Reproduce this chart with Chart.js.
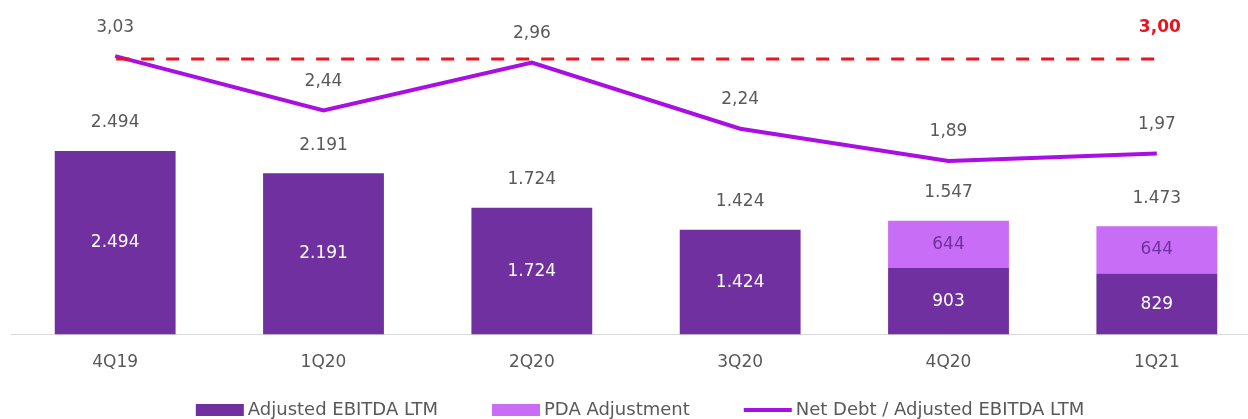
<!DOCTYPE html>
<html>
<head>
<meta charset="utf-8">
<script src="https://cdn.jsdelivr.net/npm/chart.js@4.4.0/dist/chart.umd.min.js"></script>
<style>
  html, body { margin: 0; padding: 0; background: #fff; overflow: hidden; }
  #wrap { width: 1262px; height: 419px; }
</style>
</head>
<body>
<div id="wrap"><canvas id="grafico" width="1262" height="419"></canvas></div>
<script>
// dados do gráfico
const trimestres = ['4Q19', '1Q20', '2Q20', '3Q20', '4Q20', '1Q21'];
const ebitdaAjustado = [2494, 2191, 1724, 1424, 903, 829];
const ajustePDA = [null, null, null, null, 644, 644];
const dividaEbitda = [3.03, 2.44, 2.96, 2.24, 1.89, 1.97];
const limiteCovenant = [3.00, 3.00, 3.00, 3.00, 3.00, 3.00];
const nomesLegenda = ['Adjusted EBITDA LTM', 'PDA Adjustment', 'Net Debt / Adjusted EBITDA LTM'];

const ROXO = '#7030a0';
const LILAS = '#c86df6';
const MAGENTA = '#a90ee3';
const VERMELHO = '#e8141e';
const CINZA = '#595959';
const FONTE = "'DejaVu Sans', sans-serif";

function formatarMilhar(v) {
  return String(v).replace(/\B(?=(\d{3})+(?!\d))/g, '.');
}
function formatarDecimal(v) {
  return v.toFixed(2).replace('.', ',');
}

// plugin simples para escrever os rótulos e a legenda
const rotulos = {
  id: 'rotulos',
  afterDatasetsDraw(chart) {
    const ctx = chart.ctx;
    const mBase = chart.getDatasetMeta(0);
    const mPda = chart.getDatasetMeta(1);
    const mLinha = chart.getDatasetMeta(2);
    const mLimite = chart.getDatasetMeta(3);
    ctx.save();
    ctx.textAlign = 'center';
    ctx.textBaseline = 'middle';
    ctx.font = '17px ' + FONTE;

    trimestres.forEach((t, i) => {
      const b = mBase.data[i];
      // valor dentro da barra base
      ctx.fillStyle = '#ffffff';
      ctx.fillText(formatarMilhar(ebitdaAjustado[i]), b.x, (b.y + b.base) / 2);
      let topo = b.y;
      let total = ebitdaAjustado[i];
      if (ajustePDA[i] != null) {
        const p = mPda.data[i];
        ctx.fillStyle = ROXO;
        ctx.fillText(formatarMilhar(ajustePDA[i]), p.x, (p.y + p.base) / 2);
        topo = p.y;
        total += ajustePDA[i];
      }
      ctx.fillStyle = CINZA;
      ctx.fillText(formatarMilhar(total), b.x, topo - 28);

      const pt = mLinha.data[i];
      ctx.fillText(formatarDecimal(dividaEbitda[i]), pt.x, pt.y - 29);
    });

    const ult = mLimite.data[mLimite.data.length - 1];
    ctx.font = 'bold 17px ' + FONTE;
    ctx.fillStyle = VERMELHO;
    ctx.fillText(formatarDecimal(limiteCovenant[limiteCovenant.length - 1]), ult.x + 3, ult.y - 31);
    ctx.restore();
  },
  afterDraw(chart) {
    // legenda desenhada à mão (espaçamento igual ao original)
    const ctx = chart.ctx;
    ctx.save();
    ctx.font = '18px ' + FONTE;
    ctx.textBaseline = 'middle';
    ctx.textAlign = 'left';
    const caixa = 48, folga = 4, entre = 54, yLeg = 410;
    const larguras = nomesLegenda.map((n) => ctx.measureText(n).width);
    const total = larguras.reduce((a, w) => a + caixa + folga + w, 0) + entre * (nomesLegenda.length - 1);
    let x = 640 - total / 2;
    const cores = [ROXO, LILAS, MAGENTA];
    nomesLegenda.forEach((nome, i) => {
      if (i < 2) {
        ctx.fillStyle = cores[i];
        ctx.fillRect(x, yLeg - 6, caixa, 12);
      } else {
        ctx.strokeStyle = cores[i];
        ctx.lineWidth = 4;
        ctx.beginPath();
        ctx.moveTo(x, yLeg);
        ctx.lineTo(x + caixa, yLeg);
        ctx.stroke();
      }
      ctx.fillStyle = CINZA;
      ctx.fillText(nome, x + caixa + folga, yLeg);
      x += caixa + folga + larguras[i] + entre;
    });
    ctx.restore();
  }
};

const config = {
  type: 'bar',
  data: {
    labels: trimestres,
    datasets: [
      {
        label: nomesLegenda[0],
        data: ebitdaAjustado,
        backgroundColor: ROXO,
        stack: 'ebitda',
        yAxisID: 'y',
        order: 3,
        barPercentage: 0.58,
        categoryPercentage: 1
      },
      {
        label: nomesLegenda[1],
        data: ajustePDA,
        backgroundColor: LILAS,
        stack: 'ebitda',
        yAxisID: 'y',
        order: 3,
        barPercentage: 0.58,
        categoryPercentage: 1
      },
      {
        type: 'line',
        label: nomesLegenda[2],
        data: dividaEbitda,
        borderColor: MAGENTA,
        backgroundColor: MAGENTA,
        borderWidth: 4,
        pointRadius: 0,
        tension: 0,
        yAxisID: 'y2',
        order: 2
      },
      {
        type: 'line',
        label: 'limite',
        data: limiteCovenant,
        borderColor: VERMELHO,
        borderWidth: 3,
        borderDash: [13, 12],
        borderDashOffset: 24,
        pointRadius: 0,
        yAxisID: 'y2',
        order: 1
      }
    ]
  },
  options: {
    responsive: false,
    animation: false,
    layout: { padding: { top: 13, left: 11, right: 1, bottom: 28 } },
    scales: {
      x: {
        offset: true,
        grid: { display: false, drawTicks: false },
        border: { display: true, color: '#d9d9d9', width: 1 },
        ticks: { color: CINZA, font: { family: FONTE, size: 17 }, padding: 18 }
      },
      y: {
        display: false,
        stacked: true,
        min: 0,
        max: 4368
      },
      y2: {
        display: false,
        min: 0,
        max: 3.5
      }
    },
    plugins: {
      legend: { display: false },
      tooltip: { enabled: false }
    }
  },
  plugins: [rotulos]
};

new Chart(document.getElementById('grafico').getContext('2d'), config);
</script>
</body>
</html>
